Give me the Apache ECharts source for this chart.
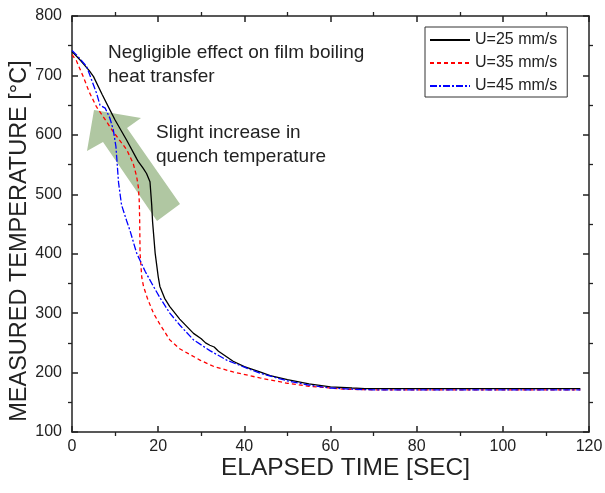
<!DOCTYPE html>
<html><head><meta charset="utf-8">
<script src="https://cdn.jsdelivr.net/npm/echarts@6/dist/echarts.min.js"></script>
<style>html,body{margin:0;padding:0;background:#fff}#c{width:605px;height:493px}</style>
</head><body><div id="c"></div>
<script>
var seriesNames = ['U=25 mm/s', 'U=35 mm/s', 'U=45 mm/s'];
var xTicks = [0, 20, 40, 60, 80, 100, 120];
var yTicks = [100, 200, 300, 400, 500, 600, 700, 800];

var u25 = [[0,740],[2,725],[4,708],[5,698],[7,668],[8.8,642],[10,625],[12.7,591],[15,560],[15.4,555],[16.5,544],[17.3,535],[18.1,521],[18.5,482],[18.7,454],[19.3,401],[20,362],[20.4,345],[21.5,325],[22.7,311],[25,290],[28.2,266],[30,257],[31,250],[32,246],[33,243],[34,236],[37.4,219],[40,210],[43.6,201],[46,195],[50,188],[55,181],[60,176],[65,174],[68,173],[80,173],[100,173],[118,173]];
var u35 = [[0,735],[1,725],[2.6,698],[4,672],[5.7,647],[7.3,630],[9.6,605],[12.7,575],[14.2,552],[15,530],[15.4,512],[15.6,490],[15.7,460],[15.8,400],[16.2,360],[16.6,345],[17.5,325],[18.9,300],[20.5,280],[22.7,255],[25,240],[29.7,221],[33,210],[37.4,201],[43.6,191],[50,182],[55,177],[60,174],[63,172],[70,171],[90,171],[118,171]];
var u45 = [[0,742],[1,735],[3.4,715],[5.7,670],[6.5,650],[7.7,645],[8.8,628],[9.6,608],[10.2,580],[10.5,550],[10.8,520],[11.5,482],[12.7,455],[13.5,438],[15,401],[17,370],[18.9,345],[20.5,325],[22.7,300],[25,280],[28.2,255],[32,237],[35.9,221],[40,209],[43.6,199],[50,186],[55,179],[60,174],[65,172],[70,171],[90,171],[118,171]];

var FONT = 'Arial, "Liberation Sans", sans-serif';
var chart = echarts.init(document.getElementById('c'));

function axisCommon(show){
  return {
    nameMoveOverlap:false,
    axisLine:{show:true, onZero:false, lineStyle:{color:'#222', width:1.5}},
    axisTick:{show:true, inside:true, length:6, lineStyle:{color:'#222', width:1.5}},
    minorTick:{show:true, splitNumber:2, length:-4, lineStyle:{color:'#222', width:1.3}},
    splitLine:{show:false},
    axisLabel:{show:show, color:'#222', fontSize:16, fontFamily:FONT}
  };
}

var xb = Object.assign({type:'value', position:'bottom', min:xTicks[0], max:xTicks[xTicks.length-1], interval:20,
  name:'ELAPSED TIME [SEC]', nameLocation:'middle', nameGap:24,
  nameTextStyle:{fontSize:24.5, color:'#222', fontFamily:FONT, padding:[0,0,0,30]}}, axisCommon(true));
xb.axisLabel.margin = 7;
var xt = Object.assign({type:'value', position:'top', min:xTicks[0], max:xTicks[xTicks.length-1], interval:20}, axisCommon(false));
var yl = Object.assign({type:'value', position:'left', min:yTicks[0], max:yTicks[yTicks.length-1], interval:100,
  name:'MEASURED TEMPERATURE [°C]', nameLocation:'middle', nameGap:40,
  nameTextStyle:{fontSize:23.5, color:'#222', fontFamily:FONT, padding:[0,34,0,0]}}, axisCommon(true));
yl.axisLabel.margin = 10;
var yr = Object.assign({type:'value', position:'right', min:yTicks[0], max:yTicks[yTicks.length-1], interval:100}, axisCommon(false));

function ser(name, data, color, type){
  return {name:name, type:'line', data:data, symbol:'none', showSymbol:false, smooth:false,
    lineStyle:{color:color, width:1.3, type:type}, itemStyle:{color:color}, z:5};
}

chart.setOption({
  animation:false,
  backgroundColor:'#fff',
  grid:{left:72, top:16, right:16, bottom:61, containLabel:false, outerBoundsMode:'none'},
  xAxis:[xb, xt],
  yAxis:[yl, yr],
  legend:{
    data:seriesNames, orient:'vertical', left:425, top:27,
    borderColor:'#333', borderWidth:1, padding:[5,10,3,4], itemGap:7,
    itemWidth:40, itemHeight:14, itemTextGap:6, backgroundColor:'#fff',
    itemStyle:{opacity:0},
    textStyle:{fontSize:16, color:'#222', fontFamily:FONT}
  },
  graphic:[
    {type:'polygon', z:1, silent:true,
     shape:{points:[[94,110],[141,118],[127,128],[180,204],[157,221],[103,142],[87,151]]},
     style:{fill:'#b0c7a2'}},
    {type:'text', left:108, top:41, z:10, style:{text:'Negligible effect on film boiling\nheat transfer', font:'19px ' + FONT, fill:'#222', lineHeight:24}},
    {type:'text', left:156, top:121, z:10, style:{text:'Slight increase in\nquench temperature', font:'19px ' + FONT, fill:'#222', lineHeight:24}}
  ],
  series:[
    ser(seriesNames[0], u25, '#000000', 'solid'),
    ser(seriesNames[1], u35, '#ff0000', [4,3]),
    ser(seriesNames[2], u45, '#0000ff', [7,2,2,2])
  ]
});
</script></body></html>
